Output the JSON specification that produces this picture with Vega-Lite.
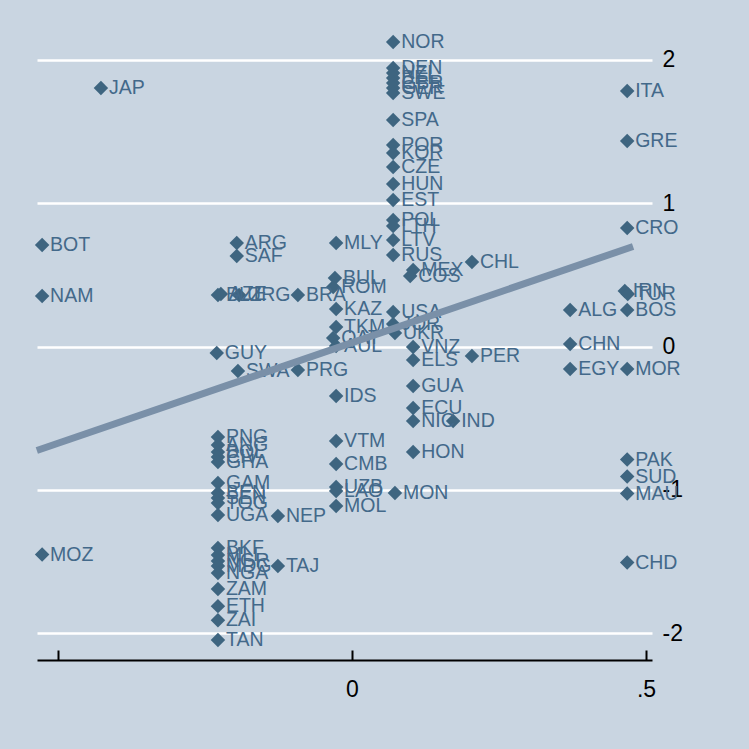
{
  "$schema": "https://vega.github.io/schema/vega-lite/v6.json",
  "autosize": {"type": "none"},
  "padding": {"left": 37, "top": 30, "right": 97, "bottom": 89},
  "width": 615,
  "height": 630,
  "background": "#c9d5e1",
  "config": {"view": {"stroke": null}, "font": "Liberation Sans"},
  "datasets": {
    "pts": [
      {"c": "NOR", "x": 0.070, "y": 2.126},
      {"c": "DEN", "x": 0.070, "y": 1.944},
      {"c": "NZL", "x": 0.070, "y": 1.909},
      {"c": "BEL", "x": 0.070, "y": 1.874},
      {"c": "GBR", "x": 0.070, "y": 1.839},
      {"c": "GER", "x": 0.070, "y": 1.805},
      {"c": "SWE", "x": 0.070, "y": 1.770},
      {"c": "SPA", "x": 0.070, "y": 1.581},
      {"c": "POR", "x": 0.070, "y": 1.407},
      {"c": "KOR", "x": 0.070, "y": 1.351},
      {"c": "CZE", "x": 0.070, "y": 1.253},
      {"c": "HUN", "x": 0.070, "y": 1.134},
      {"c": "EST", "x": 0.070, "y": 1.023},
      {"c": "POL", "x": 0.070, "y": 0.883},
      {"c": "LTH", "x": 0.070, "y": 0.841},
      {"c": "LTV", "x": 0.070, "y": 0.743},
      {"c": "RUS", "x": 0.070, "y": 0.639},
      {"c": "USA", "x": 0.070, "y": 0.241},
      {"c": "JOR", "x": 0.070, "y": 0.157},
      {"c": "UKR", "x": 0.073, "y": 0.094},
      {"c": "MON", "x": 0.073, "y": -1.023},
      {"c": "MEX", "x": 0.104, "y": 0.534},
      {"c": "COS", "x": 0.099, "y": 0.492},
      {"c": "VNZ", "x": 0.104, "y": -0.003},
      {"c": "ELS", "x": 0.104, "y": -0.094},
      {"c": "GUA", "x": 0.104, "y": -0.276},
      {"c": "ECU", "x": 0.104, "y": -0.429},
      {"c": "NIC", "x": 0.104, "y": -0.520},
      {"c": "IND", "x": 0.172, "y": -0.520},
      {"c": "HON", "x": 0.104, "y": -0.736},
      {"c": "PER", "x": 0.204, "y": -0.066},
      {"c": "CHL", "x": 0.204, "y": 0.590},
      {"c": "MLY", "x": -0.027, "y": 0.723},
      {"c": "BUL", "x": -0.029, "y": 0.478},
      {"c": "ROM", "x": -0.032, "y": 0.415},
      {"c": "KAZ", "x": -0.027, "y": 0.262},
      {"c": "TKM", "x": -0.027, "y": 0.136},
      {"c": "QAT", "x": -0.032, "y": 0.059},
      {"c": "AUL", "x": -0.027, "y": 0.003},
      {"c": "IDS", "x": -0.027, "y": -0.346},
      {"c": "VTM", "x": -0.027, "y": -0.660},
      {"c": "CMB", "x": -0.027, "y": -0.820},
      {"c": "UZB", "x": -0.027, "y": -0.981},
      {"c": "LAO", "x": -0.027, "y": -1.009},
      {"c": "MOL", "x": -0.027, "y": -1.113},
      {"c": "ARG", "x": -0.196, "y": 0.723},
      {"c": "SAF", "x": -0.196, "y": 0.632},
      {"c": "BLZ", "x": -0.228, "y": 0.360},
      {"c": "AZE", "x": -0.223, "y": 0.366},
      {"c": "URG", "x": -0.192, "y": 0.360},
      {"c": "BRA", "x": -0.092, "y": 0.360},
      {"c": "GUY", "x": -0.230, "y": -0.045},
      {"c": "SWA", "x": -0.194, "y": -0.171},
      {"c": "PRG", "x": -0.092, "y": -0.164},
      {"c": "PNG", "x": -0.228, "y": -0.632},
      {"c": "ANG", "x": -0.228, "y": -0.688},
      {"c": "BOL", "x": -0.228, "y": -0.736},
      {"c": "CIV", "x": -0.228, "y": -0.771},
      {"c": "GHA", "x": -0.228, "y": -0.806},
      {"c": "GAM", "x": -0.228, "y": -0.953},
      {"c": "BEN", "x": -0.228, "y": -1.023},
      {"c": "SEN", "x": -0.228, "y": -1.058},
      {"c": "TOG", "x": -0.228, "y": -1.093},
      {"c": "UGA", "x": -0.228, "y": -1.176},
      {"c": "NEP", "x": -0.126, "y": -1.183},
      {"c": "BKF", "x": -0.228, "y": -1.407},
      {"c": "MLI", "x": -0.228, "y": -1.456},
      {"c": "NGR", "x": -0.228, "y": -1.497},
      {"c": "MDG", "x": -0.228, "y": -1.532},
      {"c": "NGA", "x": -0.228, "y": -1.581},
      {"c": "TAJ", "x": -0.126, "y": -1.532},
      {"c": "ZAM", "x": -0.228, "y": -1.693},
      {"c": "ETH", "x": -0.228, "y": -1.812},
      {"c": "ZAI", "x": -0.228, "y": -1.910},
      {"c": "TAN", "x": -0.228, "y": -2.049},
      {"c": "JAP", "x": -0.427, "y": 1.804},
      {"c": "BOT", "x": -0.527, "y": 0.709},
      {"c": "NAM", "x": -0.527, "y": 0.353},
      {"c": "MOZ", "x": -0.527, "y": -1.452},
      {"c": "ITA", "x": 0.468, "y": 1.784},
      {"c": "GRE", "x": 0.468, "y": 1.434},
      {"c": "CRO", "x": 0.468, "y": 0.827},
      {"c": "IRN", "x": 0.464, "y": 0.387},
      {"c": "TUR", "x": 0.469, "y": 0.366},
      {"c": "BOS", "x": 0.468, "y": 0.255},
      {"c": "MOR", "x": 0.468, "y": -0.157},
      {"c": "PAK", "x": 0.468, "y": -0.789},
      {"c": "SUD", "x": 0.468, "y": -0.908},
      {"c": "MAU", "x": 0.468, "y": -1.026},
      {"c": "CHD", "x": 0.468, "y": -1.508},
      {"c": "ALG", "x": 0.371, "y": 0.255},
      {"c": "CHN", "x": 0.371, "y": 0.017},
      {"c": "EGY", "x": 0.371, "y": -0.157}
    ],
    "fit": [
      {"x": -0.536, "y": -0.726},
      {"x": 0.478, "y": 0.698}
    ]
  },
  "layer": [
    {
      "data": {"name": "pts"},
      "mark": {"type": "point", "shape": "diamond", "filled": true, "size": 210, "color": "#3e6580", "opacity": 1},
      "encoding": {
        "x": {"field": "x", "type": "quantitative",
              "scale": {"domain": [-0.5357, 0.5102], "nice": false, "zero": false},
              "axis": {"values": [-0.5, 0, 0.5], "title": null, "grid": false,
                       "labelExpr": "datum.value == 0 ? '0' : (datum.value == 0.5 ? '.5' : '')",
                       "domainColor": "#000000", "domainWidth": 2, "tickColor": "#000000", "tickWidth": 2,
                       "tickSize": -10, "labelPadding": 28, "labelFontSize": 23, "labelColor": "#000000",
                       "labelFont": "Liberation Sans"}},
        "y": {"field": "y", "type": "quantitative",
              "scale": {"domain": [-2.188, 2.209], "nice": false, "zero": false},
              "axis": {"orient": "right", "values": [-2, -1, 0, 1, 2], "title": null,
                       "labelExpr": "datum.value < 0 ? '-' + abs(datum.value) : '' + datum.value",
                       "grid": true, "gridColor": "#ffffff", "gridWidth": 2.5, "gridOpacity": 1,
                       "domain": false, "ticks": false, "labelPadding": 10, "labelFontSize": 23,
                       "labelColor": "#000000", "labelFont": "Liberation Sans", "labelAlign": "left"}}
      }
    },
    {
      "data": {"name": "pts"},
      "mark": {"type": "text", "align": "left", "baseline": "middle", "dx": 8, "fontSize": 19.5, "color": "#43698a", "font": "Liberation Sans"},
      "encoding": {
        "x": {"field": "x", "type": "quantitative"},
        "y": {"field": "y", "type": "quantitative"},
        "text": {"field": "c", "type": "nominal"}
      }
    },
    {
      "data": {"name": "fit"},
      "mark": {"type": "line", "color": "#7a90a8", "strokeWidth": 7},
      "encoding": {
        "x": {"field": "x", "type": "quantitative"},
        "y": {"field": "y", "type": "quantitative"}
      }
    }
  ]
}
